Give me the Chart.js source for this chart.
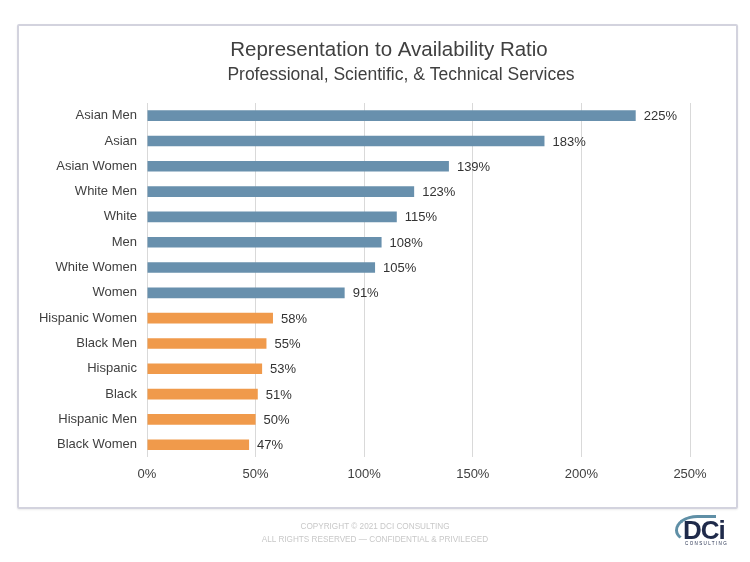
<!DOCTYPE html>
<html>
<head>
<meta charset="utf-8">
<script src="https://cdn.jsdelivr.net/npm/chart.js@4"></script>
<style>
  body { margin: 0; background: #fff; font-family: "Liberation Sans", Arial, sans-serif; }
  #page { position: relative; width: 750px; height: 562px; overflow: hidden; }
  #frame { position: absolute; left: 17px; top: 24px; width: 717px; height: 481px;
           border: 2px solid #d3d3de; border-radius: 2px; box-shadow: 0 1px 2px rgba(0,0,0,0.08); }
  #chartBox { position: absolute; left: 0; top: 0; width: 750px; height: 562px; }
  .footer { position: absolute; left: 175px; width: 400px; text-align: center;
            font-size: 8.2px; color: #c8c8c8; }
  #logo .arc { position: absolute; left: 675px; top: 515px; width: 38px; height: 22px;
               border: 3px solid #5f8fa6; border-right: none; border-bottom-color: transparent;
               border-radius: 60% 0 0 50%; }
  #logo .dci { position: absolute; left: 683px; top: 515px; line-height: 1;
               font: bold 26px "Liberation Sans", Arial, sans-serif; color: #1f2a4a; letter-spacing: -1px; }
  #logo .sub { position: absolute; left: 685px; top: 541px; line-height: 1;
               font: 4.5px "Liberation Sans", Arial, sans-serif; color: #1f2a4a; letter-spacing: 1.4px; }
</style>
</head>
<body>
<div id="page">
  <div id="frame"></div>
  <div id="chartBox"><canvas id="chart" width="750" height="562"></canvas></div>
  <div class="footer" style="top:522px">COPYRIGHT © 2021 DCI CONSULTING</div>
  <div class="footer" style="top:535px">ALL RIGHTS RESERVED — CONFIDENTIAL &amp; PRIVILEGED</div>
  <div id="logo"><div class="arc"></div><div class="dci">DCi</div><div class="sub">CONSULTING</div></div>
</div>
<script>
// groups, top to bottom
const categories = ['Asian Men', 'Asian', 'Asian Women', 'White Men', 'White', 'Men', 'White Women',
  'Women', 'Hispanic Women', 'Black Men', 'Hispanic', 'Black', 'Hispanic Men', 'Black Women'];
const ratios = [225, 183, 139, 123, 115, 108, 105, 91, 58, 55, 53, 51, 50, 47];
const xTicks = [0, 50, 100, 150, 200, 250];

const titleText = 'Representation to Availability Ratio';
const subtitleText = 'Professional, Scientific, & Technical Services';

const blue = '#6890ad';
const orange = '#f09a4b';
const barColors = ratios.map(v => v >= 80 ? blue : orange);

const font = '"Liberation Sans", Arial, sans-serif';

// title + subtitle, placed like the original (slightly off centre)
const titles = {
  id: 'titles',
  afterDraw(chart) {
    const ctx = chart.ctx;
    ctx.save();
    ctx.fillStyle = '#404040';
    ctx.textAlign = 'center';
    ctx.textBaseline = 'middle';
    ctx.font = '20.5px ' + font;
    ctx.fillText(titleText, 389, 50);
    ctx.font = '17.5px ' + font;
    ctx.fillText(subtitleText, 401, 75);
    ctx.restore();
  }
};

// draws the "225%" labels at the end of each bar
const valueLabels = {
  id: 'valueLabels',
  afterDatasetsDraw(chart) {
    const ctx = chart.ctx;
    const meta = chart.getDatasetMeta(0);
    ctx.save();
    ctx.font = '13px ' + font;
    ctx.fillStyle = '#333333';
    ctx.textAlign = 'left';
    ctx.textBaseline = 'middle';
    meta.data.forEach((bar, i) => {
      ctx.fillText(ratios[i] + '%', bar.x + 8, bar.y + 1);
    });
    ctx.restore();
  }
};

new Chart(document.getElementById('chart'), {
  type: 'bar',
  data: {
    labels: categories,
    datasets: [{
      data: ratios,
      backgroundColor: barColors,
      categoryPercentage: 1,
      barPercentage: 0.42
    }]
  },
  options: {
    indexAxis: 'y',
    responsive: false,
    animation: false,
    layout: { padding: { left: 0, right: 60, top: 103, bottom: 71 } },
    plugins: {
      legend: { display: false },
      tooltip: { enabled: false },
      title: { display: false }
    },
    scales: {
      x: {
        min: 0,
        max: 250,
        afterBuildTicks: scale => { scale.ticks = xTicks.map(v => ({ value: v })); },
        grid: { color: '#d9d9d9', drawTicks: false },
        border: { display: false },
        ticks: {
          padding: 9,
          color: '#404040',
          font: { family: font, size: 13 },
          callback: v => v + '%'
        }
      },
      y: {
        afterFit: scale => { scale.width = 147; },
        grid: { display: false, drawTicks: false },
        border: { display: false },
        ticks: {
          padding: 10,
          color: '#404040',
          font: { family: font, size: 13 }
        }
      }
    }
  },
  plugins: [valueLabels, titles]
});
</script>
</body>
</html>
